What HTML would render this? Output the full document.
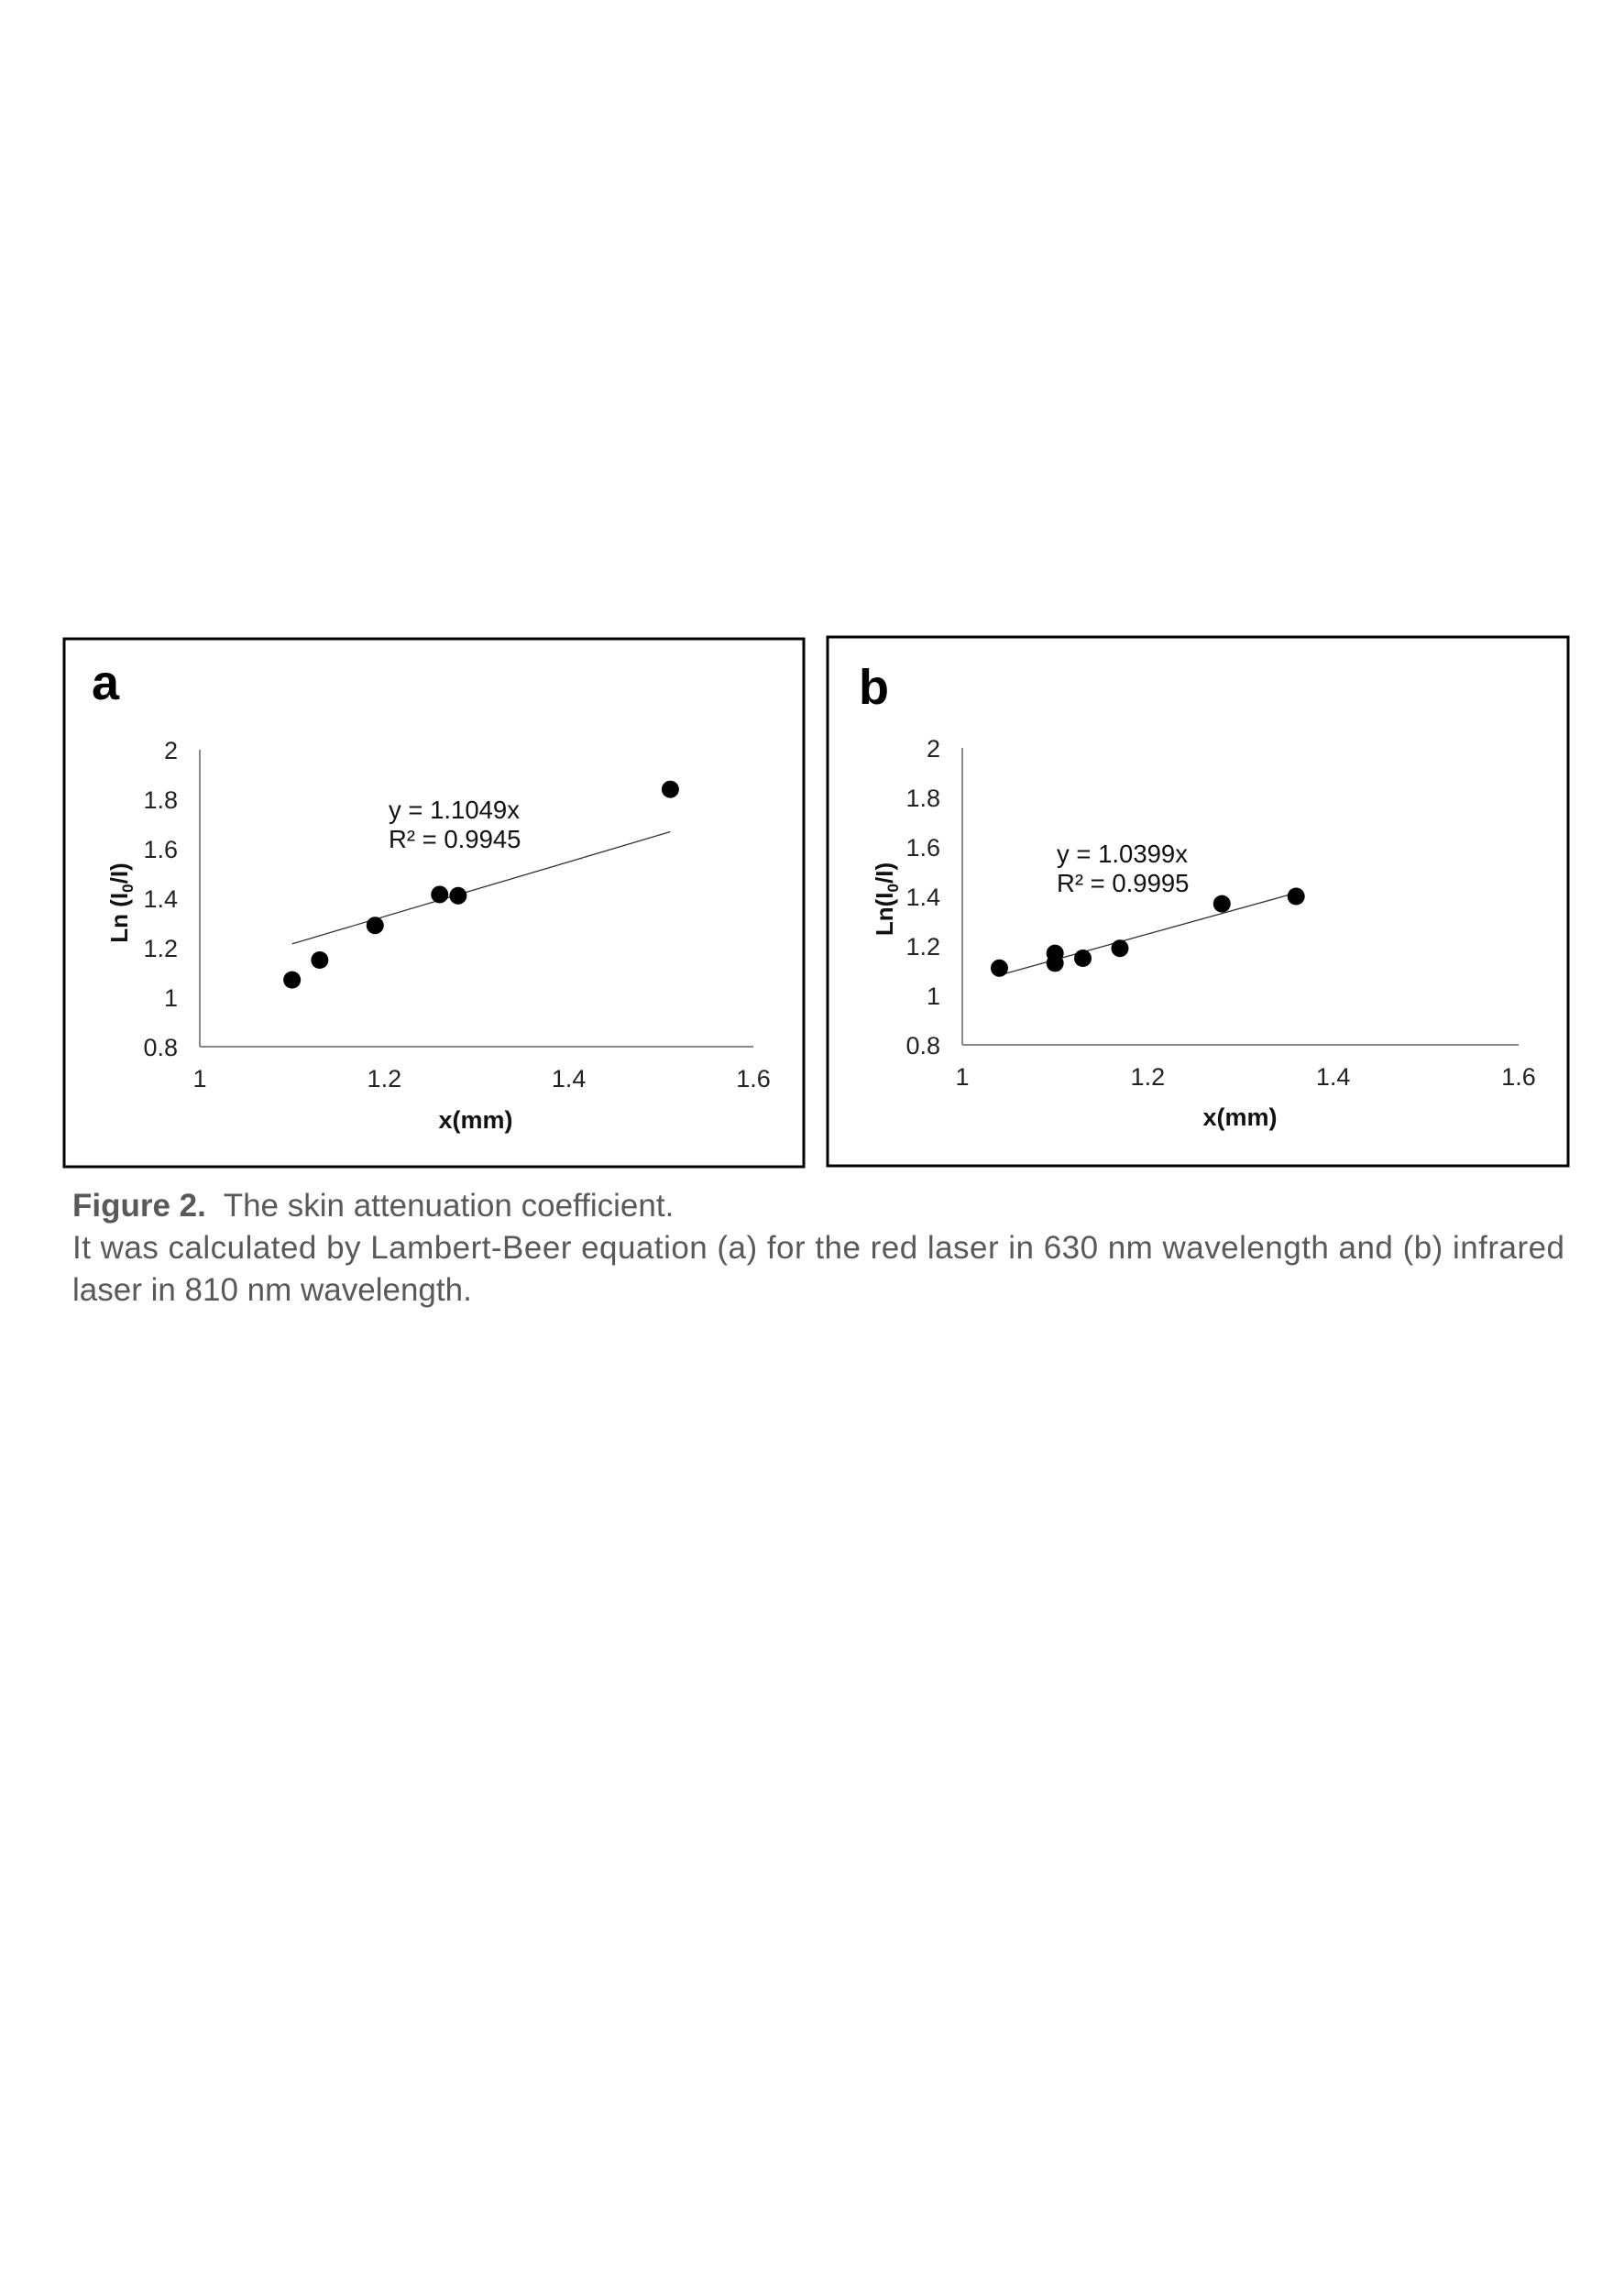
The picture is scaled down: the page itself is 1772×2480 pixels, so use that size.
<!DOCTYPE html>
<html><head><meta charset="utf-8"><style>
html,body{margin:0;padding:0;background:#fff;}
svg{display:block;font-family:"Liberation Sans",Arial,sans-serif;}
</style></head><body>
<svg id="root" width="1772" height="2480" viewBox="0 0 1772 2480" xmlns="http://www.w3.org/2000/svg">
<rect x="70" y="697" width="807" height="576" fill="none" stroke="#000" stroke-width="3"/>
<rect x="903" y="695" width="808" height="577" fill="none" stroke="#000" stroke-width="3"/>
<text x="100" y="763" font-size="54" font-weight="bold">a</text>
<text x="937" y="768" font-size="54" font-weight="bold">b</text>
<g id="chartA"></g>
<g id="chartB"></g>
<g fill="#595959" font-size="35">
<text x="79" y="1327" xml:space="preserve"><tspan font-weight="bold">Figure 2.</tspan>  The skin attenuation coefficient.</text>
<text x="79" y="1373" textLength="1628">It was calculated by Lambert-Beer equation (a) for the red laser in 630 nm wavelength and (b) infrared</text>
<text x="79" y="1419">laser in 810 nm wavelength.</text>
</g>
</svg>
<script>
const xTicks = [1, 1.2, 1.4, 1.6];
const yTicks = [0.8, 1, 1.2, 1.4, 1.6, 1.8, 2];
const aX = [1.10, 1.13, 1.19, 1.26, 1.28, 1.51];
const aY = [1.07, 1.15, 1.29, 1.415, 1.41, 1.84];
const aSlope = 1.1049;
const aEq = ["y = 1.1049x", "R² = 0.9945"];
const bX = [1.04, 1.10, 1.10, 1.13, 1.17, 1.28, 1.36];
const bY = [1.11, 1.17, 1.13, 1.15, 1.19, 1.37, 1.40];
const bSlope = 1.0399;
const bEq = ["y = 1.0399x", "R² = 0.9995"];
const NS = "http://www.w3.org/2000/svg";
function mk(parent, tag, attrs, txt){
  const e = document.createElementNS(NS, tag);
  for (const k in attrs) e.setAttribute(k, attrs[k]);
  if (txt !== undefined) e.textContent = txt;
  parent.appendChild(e);
  return e;
}
function draw(g, cfg, xs, ys, slope, eq, prefix){
  const sx = v => cfg.x0 + (v - 1) / 0.6 * (cfg.x1 - cfg.x0);
  const sy = v => cfg.y1 - (v - 0.8) / 1.2 * (cfg.y1 - cfg.y0);
  let e;
  e = mk(g, "line", {x1: cfg.x0, y1: cfg.y0, x2: cfg.x0, y2: cfg.y1, stroke: "#888", "stroke-width": 2});
  
  
  e = mk(g, "line", {x1: cfg.x0, y1: cfg.y1, x2: cfg.x1, y2: cfg.y1, stroke: "#888", "stroke-width": 2});
  
  
  yTicks.forEach(t => {
    const el = mk(g, "text", {x: cfg.x0 - 24, y: sy(t) + 10, "font-size": 27, "text-anchor": "end", fill: "#222"}, String(t));
    
    
  });
  xTicks.forEach(t => {
    const el = mk(g, "text", {x: sx(t), y: cfg.y1 + 44, "font-size": 27, "text-anchor": "middle", fill: "#222"}, String(t));
    
    
  });
  const xmin = Math.min(...xs), xmax = Math.max(...xs);
  e = mk(g, "line", {x1: sx(xmin), y1: sy(slope * xmin), x2: sx(xmax), y2: sy(slope * xmax), stroke: "#333", "stroke-width": 1.3});
  
  
  xs.forEach((v, i) => {
    const c = mk(g, "circle", {cx: sx(v), cy: sy(ys[i]), r: 9.5, fill: "#000"});
    
    
  });
  eq.forEach((s, i) => {
    const t = mk(g, "text", {x: cfg.eqX, y: cfg.eqY + i * 32, "font-size": 27.5, fill: "#111"}, s);
    
    
  });
  const xl = mk(g, "text", {x: cfg.xlX, y: cfg.xlY, "font-size": 27, "font-weight": "bold", "text-anchor": "middle", fill: "#111"}, "x(mm)");
  
  
  const yl = mk(g, "text", {x: 0, y: 0, "font-size": 26, "font-weight": "bold", "text-anchor": "middle", fill: "#111",
    transform: `translate(${cfg.ylX},${cfg.ylY}) rotate(-90)`});
  
  
  mk(yl, "tspan", {}, cfg.ylPre + "(I");
  mk(yl, "tspan", {"font-size": 17, dy: 6}, "0");
  mk(yl, "tspan", {dy: -6}, "/I)");
}
draw(document.getElementById("chartA"),
  {x0: 218, x1: 822, y0: 818, y1: 1142, eqX: 424, eqY: 893, xlX: 519, xlY: 1231, ylX: 139, ylY: 985, ylPre: "Ln "},
  aX, aY, aSlope, aEq, "a");
draw(document.getElementById("chartB"),
  {x0: 1050, x1: 1657, y0: 816, y1: 1140, eqX: 1153, eqY: 941, xlX: 1353, xlY: 1228, ylX: 974, ylY: 981, ylPre: "Ln"},
  bX, bY, bSlope, bEq, "b");
</script>
</body></html>
